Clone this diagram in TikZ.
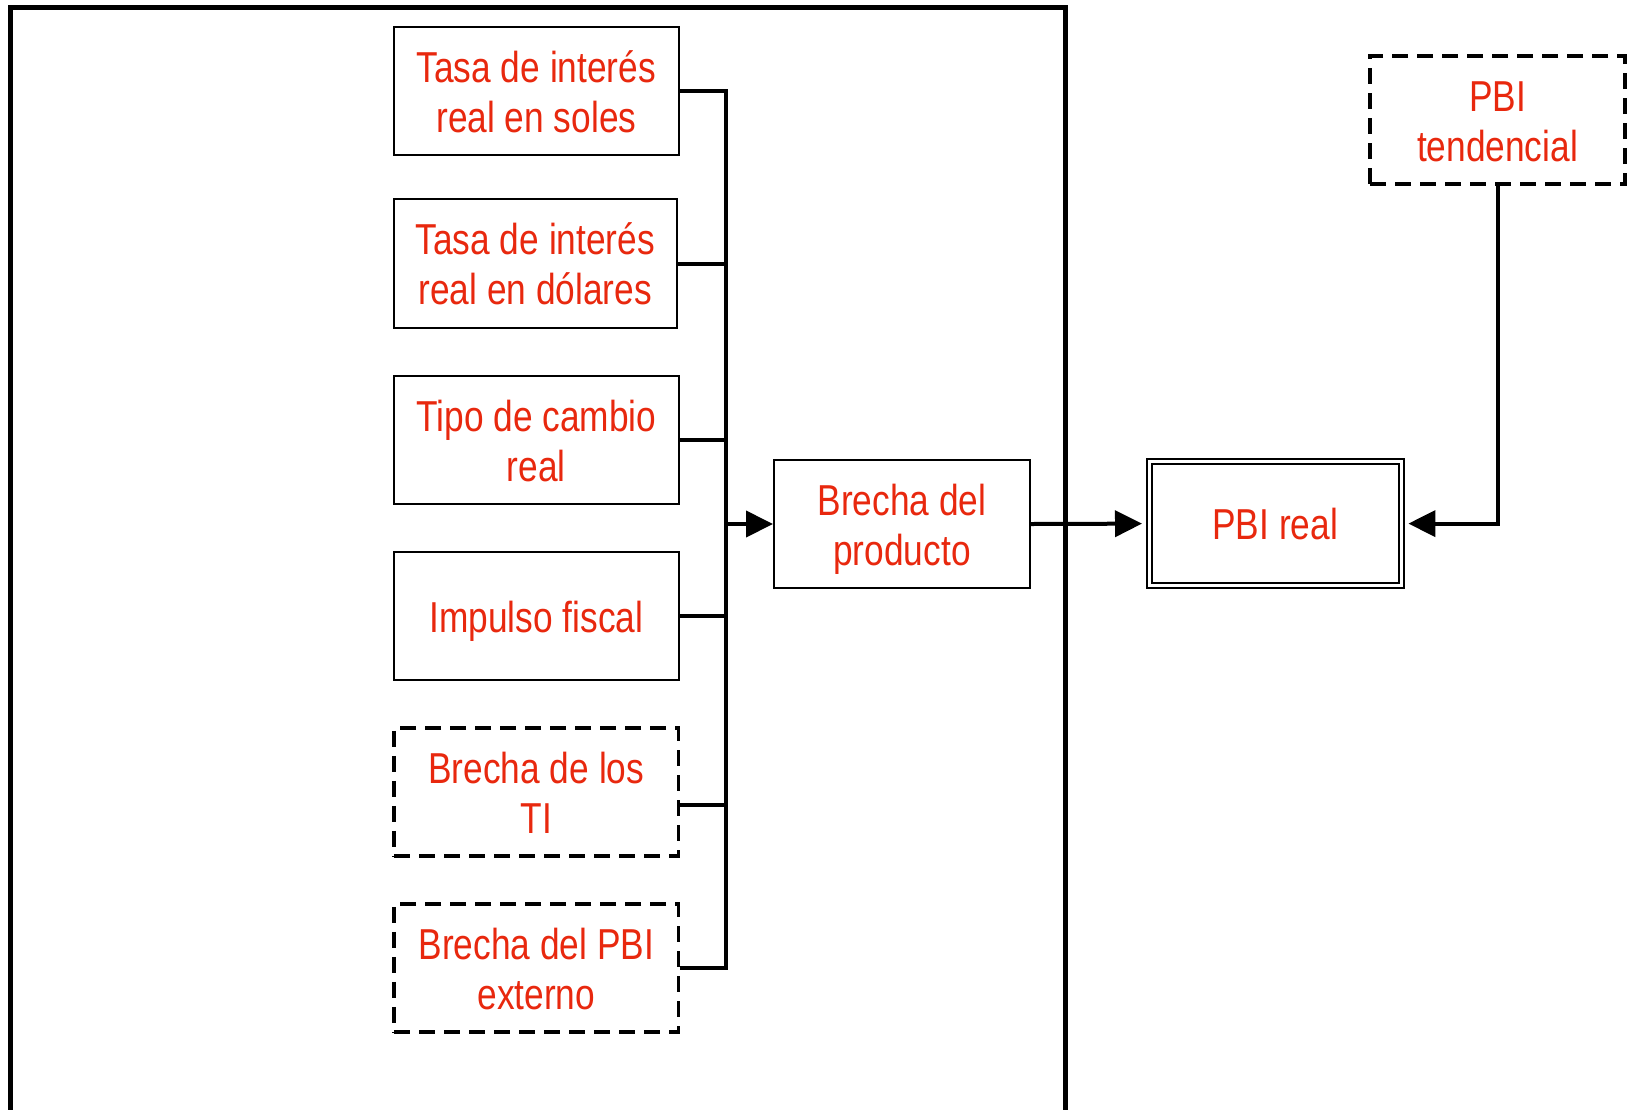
\documentclass[tikz,border=0pt]{standalone}
\usepackage{fontspec}
\setmainfont{Liberation Sans}
\usepackage{graphicx}
\usetikzlibrary{arrows.meta}
\definecolor{txtred}{RGB}{232,40,14}
\newcommand{\lbl}[1]{\raisebox{-6pt}[\height][\depth]{\scalebox{0.815}[1]{\begin{tabular}{@{}c@{}}#1\end{tabular}}}}
\begin{document}
\begin{tikzpicture}[x=1pt,y=-1pt,
 box/.style={draw, line width=2pt, inner sep=0pt, text=txtred,
   font=\fontsize{43.3}{50}\selectfont, minimum width=284.6pt, minimum height=128pt},
 dbox/.style={box, line width=3.5pt, dash pattern=on 16pt off 9pt},
 dblbox/.style={box, double, double distance=3pt, line width=2pt},
 wire/.style={line width=4pt, line join=miter},
 arr/.style={wire, -{Triangle[length=27pt,width=26pt]}},
 frame/.style={line width=5pt, line join=miter}]
\useasboundingbox (0,0) rectangle (1627,1109);
\clip (0,0) rectangle (1627,1109);
% outer frame
\draw[frame] (10.4,1130) -- (10.4,7.3) -- (1065.6,7.3) -- (1065.6,1130);
% left boxes
\node[box] (s1) at (536.3,91) {\lbl{Tasa de interés\\real en soles}};
\node[box, minimum width=282.5pt, minimum height=129pt] (s2) at (535.3,263.5) {\lbl{Tasa de interés\\real en dólares}};
\node[box] (s3) at (536.3,440) {\lbl{Tipo de cambio\\real}};
\node[box] (s4) at (536.3,616) {\lbl{Impulso fiscal}};
\node[dbox] (s5) at (536.3,792) {\lbl{Brecha de los\\TI}};
\node[dbox] (s6) at (536.3,968) {\lbl{Brecha del PBI\\externo}};
% middle and right
\node[box, minimum width=256pt, minimum height=128.6pt] (bp) at (902,524) {\lbl{Brecha del\\producto}};
\node[dblbox, minimum width=252.4pt, minimum height=124pt] (pr) at (1275.2,523.6) {\lbl{PBI real}};
\node[dbox, minimum width=255pt, minimum height=128pt] (pt) at (1497.5,120) {\lbl{PBI\\tendencial}};
% bus
\coordinate (bt) at (726,91);
\coordinate (bb) at (726,968);
\draw[wire] (s1.east) -- (bt) -- (bb) -- (s6.east);
\draw[wire] (s2.east) -- (s2.east -| bt);
\draw[wire] (s3.east) -- (s3.east -| bt);
\draw[wire] (s4.east) -- (s4.east -| bt);
\draw[wire] ([yshift=-13pt]s5.east) -- ([yshift=-13pt]s5.east -| bt);
% arrows
\draw[arr] (bp.west -| bt) -- (bp.west);
\draw[arr, shorten >=6pt] (bp.east) -- (pr.west);
\draw[arr, shorten >=6pt] (pt.south) |- (pr.east);
\end{tikzpicture}
\end{document}
